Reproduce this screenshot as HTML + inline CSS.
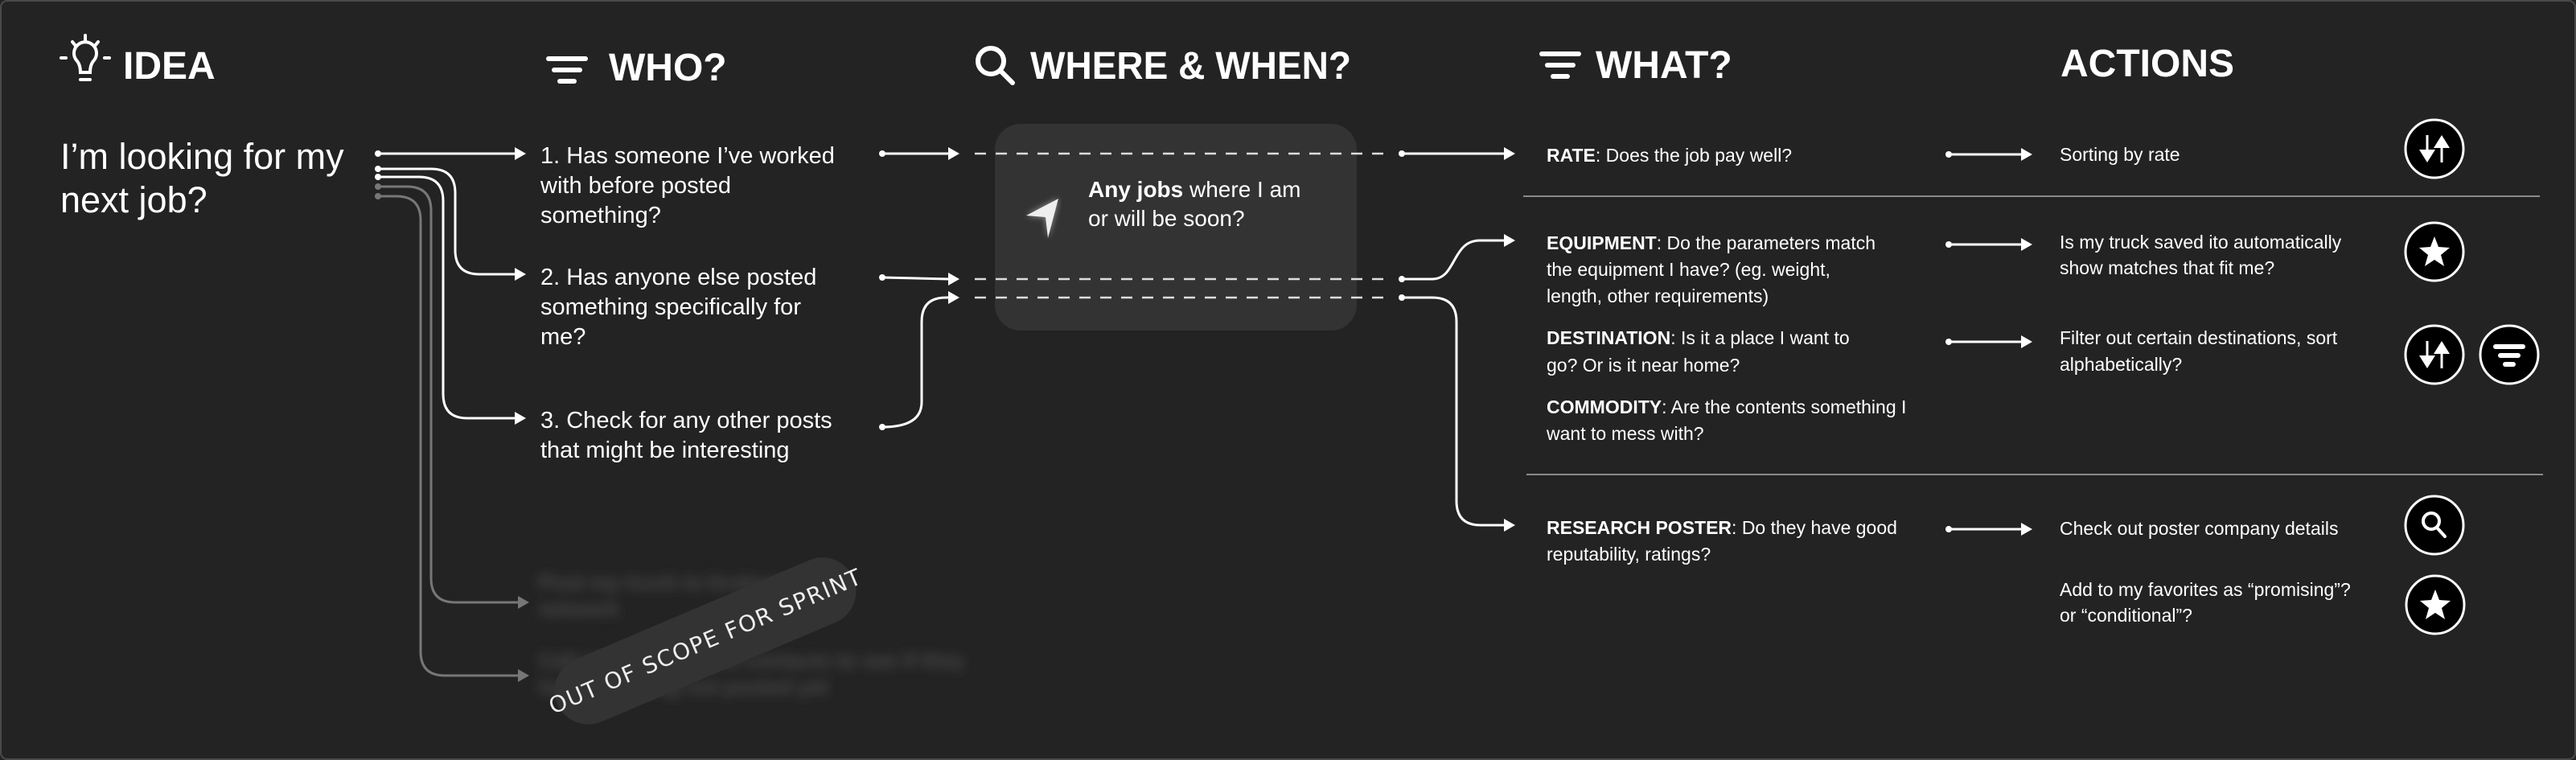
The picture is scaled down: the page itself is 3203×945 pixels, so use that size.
<!DOCTYPE html>
<html><head><meta charset="utf-8"><style>
html,body{margin:0;padding:0;background:#232323;}
svg{display:block;}
text{font-family:"Liberation Sans",sans-serif;fill:#fff;}
</style></head><body>
<svg width="3203" height="945" viewBox="0 0 3203 945" xmlns="http://www.w3.org/2000/svg">
<defs>
<filter id="bl" x="-10%" y="-50%" width="120%" height="200%"><feGaussianBlur stdDeviation="7"/></filter>
<filter id="gl"><feGaussianBlur stdDeviation="4"/></filter>
<symbol id="ah" viewBox="-14 -8 14 16" overflow="visible"><polygon points="-14,-8 0,0 -14,8" fill="#fff"/></symbol>
</defs>
<rect x="1" y="1" width="3201" height="943" rx="8" fill="#232323" stroke="#4a4a4a" stroke-width="2"/>

<!-- Headers -->
<g stroke="#fff" stroke-width="4" fill="none" stroke-linecap="round" transform="translate(0,14)">
  <path d="M96,62 a14,14 0 1 1 20,0 q-4,5 -4,14 h-12 q0,-9 -4,-14z"/>
  <line x1="100" y1="85" x2="112" y2="85"/>
  <line x1="106" y1="30" x2="106" y2="36"/>
  <line x1="90" y1="38" x2="94" y2="43"/><line x1="122" y1="38" x2="118" y2="43"/>
  <line x1="76" y1="58" x2="82" y2="58"/><line x1="130" y1="58" x2="136" y2="58"/>
</g>
<text x="153" y="98" font-size="48" font-weight="bold">IDEA</text>

<g fill="#fff">
  <rect x="679" y="70" width="52" height="6" rx="3"/>
  <rect x="686" y="84" width="38" height="6" rx="3"/>
  <rect x="693" y="98" width="24" height="6" rx="3"/>
</g>
<text x="757" y="100" font-size="48" font-weight="bold">WHO?</text>

<g stroke="#fff" stroke-width="6" fill="none" stroke-linecap="round">
  <circle cx="1232" cy="76" r="16"/><line x1="1244" y1="88" x2="1259" y2="103"/>
</g>
<text x="1281" y="98" font-size="48" font-weight="bold" textLength="399" lengthAdjust="spacingAndGlyphs">WHERE &amp; WHEN?</text>

<g fill="#fff">
  <rect x="1914" y="64" width="52" height="6" rx="3"/>
  <rect x="1921" y="78" width="38" height="6" rx="3"/>
  <rect x="1928" y="92" width="24" height="6" rx="3"/>
</g>
<text x="1984" y="97" font-size="48" font-weight="bold">WHAT?</text>
<text x="2562" y="95" font-size="48" font-weight="bold">ACTIONS</text>

<!-- Idea -->
<text font-size="45"><tspan x="75" y="210">I’m looking for my</tspan><tspan x="75" y="264">next job?</tspan></text>

<!-- idea connectors -->
<g fill="none" stroke-width="3">
  <path d="M470,191 H642" stroke="#fff"/>
  <path d="M470,210 H536 Q566,210 566,240 V311 Q566,341 596,341 H642" stroke="#fff"/>
  <path d="M470,220 H521 Q551,220 551,250 V490 Q551,520 581,520 H642" stroke="#fff"/>
  <path d="M470,232 H506 Q536,232 536,262 V719 Q536,749 566,749 H646" stroke="#777"/>
  <path d="M470,244 H493 Q523,244 523,274 V810 Q523,840 553,840 H646" stroke="#777"/>
</g>
<g fill="#fff"><circle cx="470" cy="191" r="4"/><circle cx="470" cy="210" r="4"/><circle cx="470" cy="220" r="4"/></g>
<g fill="#777"><circle cx="470" cy="232" r="4"/><circle cx="470" cy="244" r="4"/></g>
<use href="#ah" x="640" y="183" width="14" height="16"/>
<use href="#ah" x="640" y="333" width="14" height="16"/>
<use href="#ah" x="640" y="512" width="14" height="16"/>
<polygon points="644,741 658,749 644,757" fill="#777"/>
<polygon points="644,832 658,840 644,848" fill="#777"/>

<!-- WHO items -->
<text font-size="29">
  <tspan x="672" y="203">1. Has someone I’ve worked</tspan><tspan x="672" y="240">with before posted</tspan><tspan x="672" y="277">something?</tspan>
  <tspan x="672" y="354">2. Has anyone else posted</tspan><tspan x="672" y="391">something specifically for</tspan><tspan x="672" y="428">me?</tspan>
  <tspan x="672" y="532">3. Check for any other posts</tspan><tspan x="672" y="569">that might be interesting</tspan>
</text>

<!-- blurred out of scope -->
<g filter="url(#bl)">
<text font-size="26" font-weight="bold" style="fill:#4a4a4a"><tspan x="670" y="733">Post my truck to brokers in my</tspan><tspan x="670" y="766">network</tspan><tspan x="670" y="830">Call my brokers and contacts to see if they</tspan><tspan x="670" y="863">have anything not posted yet</tspan></text>
</g>
<g transform="translate(877,797) rotate(-23)">
  <rect x="-200" y="-42" width="400" height="84" rx="42" fill="#333"/>
  <text x="0" y="10" font-size="28" text-anchor="middle" letter-spacing="1.5" style="font-family:'DejaVu Sans',sans-serif;fill:#eee">OUT OF SCOPE FOR SPRINT</text>
</g>

<!-- where box -->
<rect x="1237" y="154" width="450" height="257" rx="32" fill="#333"/>
<polygon points="1316,247 1303,296 1300,270 1276,268" fill="#fff" filter="url(#gl)" opacity="0.5"/>
<polygon points="1316,247 1303,296 1300,270 1276,268" fill="#eee"/>
<text font-size="28"><tspan x="1353" y="245"><tspan font-weight="bold">Any jobs</tspan> where I am</tspan><tspan x="1353" y="281">or will be soon?</tspan></text>

<g fill="none" stroke-width="3" stroke="#fff">
  <path d="M1097,191 H1180"/>
  <path d="M1097,345 L1180,347"/>
  <path d="M1097,531 Q1146,531 1146,500 V400 Q1146,370 1176,370 H1180"/>
</g>
<g fill="#fff"><circle cx="1097" cy="191" r="4"/><circle cx="1097" cy="345" r="4"/><circle cx="1097" cy="531" r="4"/></g>
<use href="#ah" x="1179" y="183" width="14" height="16"/>
<use href="#ah" x="1179" y="339" width="14" height="16"/>
<use href="#ah" x="1179" y="362" width="14" height="16"/>
<g stroke="#ddd" stroke-width="2.5" stroke-dasharray="14 12">
  <line x1="1212" y1="191" x2="1728" y2="191"/>
  <line x1="1212" y1="347" x2="1728" y2="347"/>
  <line x1="1212" y1="370" x2="1728" y2="370"/>
</g>
<g fill="none" stroke-width="3" stroke="#fff">
  <path d="M1743,191 H1872"/>
  <path d="M1743,347 H1781 C1811,347 1805,299 1840,299 H1872"/>
  <path d="M1743,370 H1781 Q1811,370 1811,400 V623 Q1811,653 1841,653 H1872"/>
</g>
<g fill="#fff"><circle cx="1743" cy="191" r="4"/><circle cx="1743" cy="347" r="4"/><circle cx="1743" cy="370" r="4"/></g>
<use href="#ah" x="1870" y="183" width="14" height="16"/>
<use href="#ah" x="1870" y="291" width="14" height="16"/>
<use href="#ah" x="1870" y="645" width="14" height="16"/>

<!-- WHAT -->
<text font-size="23">
  <tspan x="1923" y="201"><tspan font-weight="bold">RATE</tspan>: Does the job pay well?</tspan>
  <tspan x="1923" y="310"><tspan font-weight="bold">EQUIPMENT</tspan>: Do the parameters match</tspan><tspan x="1923" y="343">the equipment I have? (eg. weight,</tspan><tspan x="1923" y="376">length, other requirements)</tspan>
  <tspan x="1923" y="428"><tspan font-weight="bold">DESTINATION</tspan>: Is it a place I want to</tspan><tspan x="1923" y="462">go?  Or is it near home?</tspan>
  <tspan x="1923" y="514"><tspan font-weight="bold">COMMODITY</tspan>: Are the contents something I</tspan><tspan x="1923" y="547">want to mess with?</tspan>
  <tspan x="1923" y="664"><tspan font-weight="bold">RESEARCH POSTER</tspan>: Do they have good</tspan><tspan x="1923" y="697">reputability, ratings?</tspan>
</text>
<line x1="1894" y1="244" x2="3158" y2="244" stroke="#8a8a8a" stroke-width="2"/>
<line x1="1898" y1="590" x2="3162" y2="590" stroke="#8a8a8a" stroke-width="2"/>

<!-- action arrows -->
<g fill="none" stroke-width="3" stroke="#fff">
  <path d="M2423,192 H2515"/><path d="M2423,304 H2515"/><path d="M2423,425 H2515"/><path d="M2423,658 H2515"/>
</g>
<g fill="#fff"><circle cx="2423" cy="192" r="4"/><circle cx="2423" cy="304" r="4"/><circle cx="2423" cy="425" r="4"/><circle cx="2423" cy="658" r="4"/></g>
<use href="#ah" x="2513" y="184" width="14" height="16"/>
<use href="#ah" x="2513" y="296" width="14" height="16"/>
<use href="#ah" x="2513" y="417" width="14" height="16"/>
<use href="#ah" x="2513" y="650" width="14" height="16"/>

<text font-size="23">
  <tspan x="2561" y="200">Sorting by rate</tspan>
  <tspan x="2561" y="309">Is my truck saved ito automatically</tspan><tspan x="2561" y="341">show matches that fit me?</tspan>
  <tspan x="2561" y="428">Filter out certain destinations, sort</tspan><tspan x="2561" y="461">alphabetically?</tspan>
  <tspan x="2561" y="665">Check out poster company details</tspan>
  <tspan x="2561" y="741">Add to my favorites as “promising”?</tspan><tspan x="2561" y="773">or “conditional”?</tspan>
</text>

<!-- action icons -->
<g stroke="#fff" stroke-width="3" fill="#000">
  <circle cx="3027" cy="185" r="36"/><circle cx="3027" cy="313" r="36"/><circle cx="3027" cy="441" r="36"/>
  <circle cx="3120" cy="441" r="36"/><circle cx="3027" cy="653" r="36"/><circle cx="3028" cy="752" r="36"/>
</g>
<g fill="#fff" stroke="#fff" stroke-width="3">
  <line x1="3018" y1="168" x2="3018" y2="188"/><polygon points="3008,186 3028,186 3018,202" stroke="none"/>
  <line x1="3036" y1="182" x2="3036" y2="202"/><polygon points="3026,184 3046,184 3036,168" stroke="none"/>
  <line x1="3018" y1="424" x2="3018" y2="444"/><polygon points="3008,442 3028,442 3018,458" stroke="none"/>
  <line x1="3036" y1="438" x2="3036" y2="458"/><polygon points="3026,440 3046,440 3036,424" stroke="none"/>
</g>
<polygon fill="#fff" points="3027,294 3032,307 3046,308 3035,317 3039,331 3027,323 3015,331 3019,317 3008,308 3022,307"/>
<polygon fill="#fff" points="3028,733 3033,746 3047,747 3036,756 3040,770 3028,762 3016,770 3020,756 3009,747 3023,746"/>
<g fill="#fff">
  <rect x="3100" y="428" width="40" height="6" rx="3"/>
  <rect x="3106" y="439" width="28" height="6" rx="3"/>
  <rect x="3112" y="450" width="16" height="6" rx="3"/>
</g>
<g stroke="#fff" stroke-width="4" fill="none" stroke-linecap="round">
  <circle cx="3023" cy="648" r="10"/><line x1="3030" y1="656" x2="3040" y2="667"/>
</g>
</svg>
</body></html>
